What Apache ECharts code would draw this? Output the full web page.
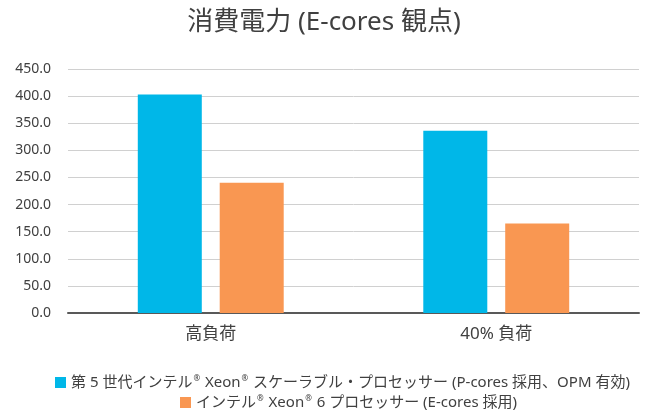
<!DOCTYPE html>
<html><head><meta charset="utf-8">
<script src="https://cdn.jsdelivr.net/npm/echarts@6/dist/echarts.min.js"></script>
<style>html,body{margin:0;padding:0;background:#fff}#c{width:648px;height:412px}</style>
</head><body><div id="c"></div>
<script>
const categories = ['高負荷', '40% 負荷'];
const seriesNames = ['第 5 世代インテル® Xeon® スケーラブル・プロセッサー (P-cores 採用、OPM 有効)', 'インテル® Xeon® 6 プロセッサー (E-cores 採用)'];
const gen5Values = [403, 336];
const xeon6Values = [240, 165];
const titleText = '消費電力 (E-cores 観点)';
const font = '"Noto Sans", "Noto Sans CJK JP", sans-serif';
const legendFmt = name => name.split('®').map(s => '{t|' + s + '}').join('{s|®}');
const legendText = {
  fontFamily: font, fontSize: 15, color: '#404040',
  rich: {
    t: { fontFamily: font, fontSize: 15, color: '#404040' },
    s: { fontFamily: font, fontSize: 8, color: '#404040', verticalAlign: 'top', padding: [0, 1, 6, 1] }
  }
};
const chart = echarts.init(document.getElementById('c'));
chart.setOption({
  animation: false,
  title: { text: titleText, left: 'center', top: 5, textStyle: { fontFamily: font, fontSize: 26, fontWeight: 'normal', color: '#404040' } },
  legend: [
    { data: [seriesNames[0]], left: 50, top: 370, itemWidth: 11, itemHeight: 11, itemGap: 10, icon: 'rect',
      formatter: legendFmt, textStyle: legendText },
    { data: [seriesNames[1]], left: 175, top: 390, itemWidth: 11, itemHeight: 11, itemGap: 10, icon: 'rect',
      formatter: legendFmt, textStyle: legendText }
  ],
  grid: { left: 68, right: 9, top: 69, bottom: 99, containLabel: false },
  xAxis: { type: 'category', data: categories,
    axisLine: { lineStyle: { color: '#595959', width: 2 } }, axisTick: { show: false },
    axisLabel: { fontFamily: font, fontSize: 17, color: '#404040', margin: 13 } },
  yAxis: { type: 'value', min: 0, max: 450, interval: 50,
    axisLabel: { fontFamily: font, fontSize: 14, color: '#404040', margin: 17, formatter: v => v.toFixed(1) },
    splitLine: { lineStyle: { color: '#d0d0d0', width: 1 } }, axisLine: { show: false }, axisTick: { show: false } },
  series: [
    { name: seriesNames[0], type: 'bar', data: gen5Values, barWidth: 64, barGap: '28%', itemStyle: { color: '#00B7E8' } },
    { name: seriesNames[1], type: 'bar', data: xeon6Values, barWidth: 64, itemStyle: { color: '#F99752' } }
  ]
});
</script></body></html>
